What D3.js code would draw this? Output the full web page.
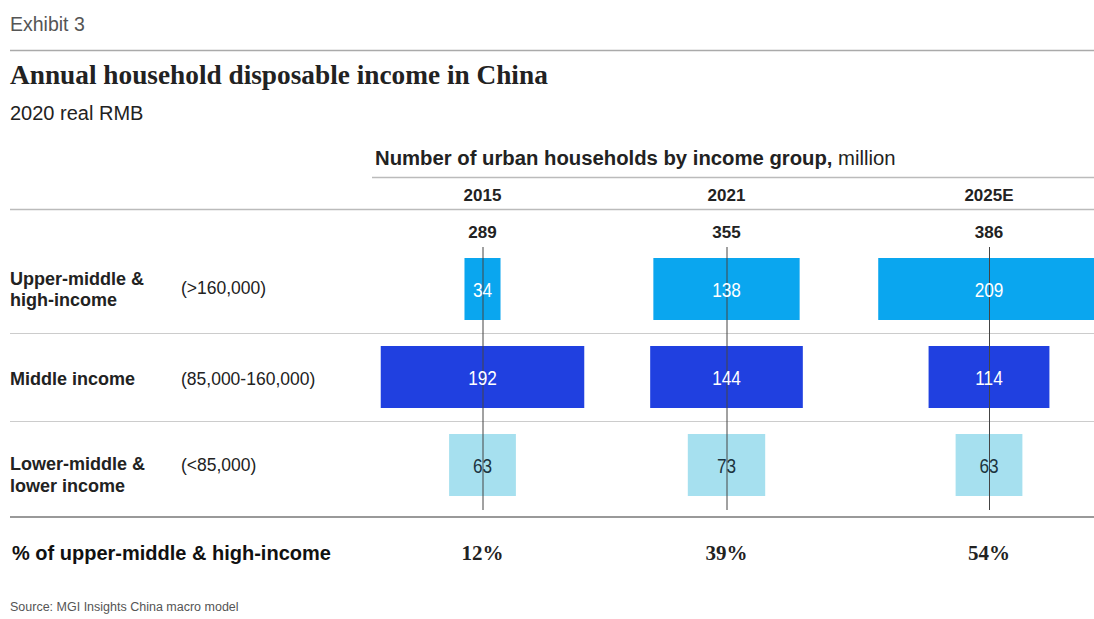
<!DOCTYPE html>
<html>
<head>
<meta charset="utf-8">
<script src="https://cdn.jsdelivr.net/npm/d3@7"></script>
<style>
  html, body { margin: 0; padding: 0; background: #fff; }
  svg { display: block; }
</style>
</head>
<body>
<svg id="chart" width="1094" height="619"></svg>
<script>
// ---- data ----
const years = ["2015", "2021", "2025E"];
const totals = [289, 355, 386];
const groups = ["upper", "middle", "lower"];
const groupLabels = [["Upper-middle &", "high-income"], ["Middle income"], ["Lower-middle &", "lower income"]];
const groupRanges = ["(>160,000)", "(85,000-160,000)", "(<85,000)"];
const upperValues = [34, 138, 209];
const middleValues = [192, 144, 114];
const lowerValues = [63, 73, 63];
const shareLabels = ["12%", "39%", "54%"];

// ---- layout / style ----
const W = 1094, H = 619;
const sans = "'Liberation Sans', Arial, Helvetica, sans-serif";
const serif = "'Liberation Serif', Georgia, 'DejaVu Serif', serif";
const colors = { upper: "#0aa6ef", middle: "#2040e0", lower: "#a6e0ef" };
const textColors = { upper: "#ffffff", middle: "#ffffff", lower: "#1c3440" };
const seriesValues = { upper: upperValues, middle: middleValues, lower: lowerValues };
// label baseline offsets (relative to band centre)
const labelOffsets = { upper: [-4, 17], middle: [8], lower: [5, 27] };
const rangeOffsets = { upper: 5, middle: 8, lower: 6 };

const svg = d3.select("#chart");

const x = d3.scaleOrdinal().domain(years).range([482.5, 726.5, 989]);
const w = d3.scaleLinear().domain([0, 100]).range([0, 106]);
const y = d3.scaleBand().domain(groups).range([245, 509]);
const barH = 62;

// header
svg.append("text").attr("x", 10).attr("y", 31).attr("font-family", sans)
  .attr("font-size", 19.5).attr("fill", "#555").text("Exhibit 3");
svg.append("line").attr("x1", 10).attr("x2", W).attr("y1", 50.5).attr("y2", 50.5)
  .attr("stroke", "#aaa").attr("stroke-width", 1.5);
svg.append("text").attr("x", 10).attr("y", 84).attr("font-family", serif)
  .attr("font-size", 27.3).attr("font-weight", "bold").attr("fill", "#222")
  .text("Annual household disposable income in China");
svg.append("text").attr("x", 10).attr("y", 120).attr("font-family", sans)
  .attr("font-size", 20).attr("fill", "#222").text("2020 real RMB");

// column header
const hdr = svg.append("text").attr("x", 375).attr("y", 165).attr("font-family", sans)
  .attr("font-size", 20.3).attr("fill", "#222");
hdr.append("tspan").attr("font-weight", "bold").text("Number of urban households by income group,");
hdr.append("tspan").text(" million");
svg.append("line").attr("x1", 372).attr("x2", W).attr("y1", 177.5).attr("y2", 177.5)
  .attr("stroke", "#bbb").attr("stroke-width", 1.5);

svg.selectAll("text.year").data(years).join("text").attr("class", "year")
  .attr("x", d => x(d)).attr("y", 201).attr("text-anchor", "middle")
  .attr("font-family", sans).attr("font-size", 17).attr("font-weight", "bold").attr("fill", "#222")
  .text(d => d);
svg.append("line").attr("x1", 10).attr("x2", W).attr("y1", 209.5).attr("y2", 209.5)
  .attr("stroke", "#bbb").attr("stroke-width", 1.5);

svg.selectAll("text.total").data(years).join("text").attr("class", "total")
  .attr("x", d => x(d)).attr("y", 238).attr("text-anchor", "middle")
  .attr("font-family", sans).attr("font-size", 17).attr("font-weight", "bold").attr("fill", "#222")
  .text((d, i) => totals[i]);

// row separators
svg.selectAll("line.sep").data(groups.slice(0, 2)).join("line").attr("class", "sep")
  .attr("x1", 10).attr("x2", W)
  .attr("y1", d => Math.round(y(d) + y.step()) + 0.5).attr("y2", d => Math.round(y(d) + y.step()) + 0.5)
  .attr("stroke", "#ccc").attr("stroke-width", 1.2);
svg.append("line").attr("x1", 10).attr("x2", W).attr("y1", 517).attr("y2", 517)
  .attr("stroke", "#999").attr("stroke-width", 2);

// row labels
groups.forEach((g, gi) => {
  const cy = y(g) + y.bandwidth() / 2;
  const t = svg.append("text").attr("x", 10).attr("font-family", sans)
    .attr("font-size", 18).attr("font-weight", "bold").attr("fill", "#222");
  groupLabels[gi].forEach((l, li) => {
    t.append("tspan").attr("x", 10).attr("y", cy + labelOffsets[g][li]).text(l);
  });
  svg.append("text").attr("x", 181).attr("y", cy + rangeOffsets[g])
    .attr("font-family", sans).attr("font-size", 17.5).attr("fill", "#222").text(groupRanges[gi]);
});

// bars
groups.forEach(g => {
  const vals = seriesValues[g];
  const cy = y(g) + y.bandwidth() / 2;
  svg.selectAll("rect.bar-" + g).data(years).join("rect").attr("class", "bar-" + g)
    .attr("x", (d, i) => x(d) - w(vals[i]) / 2)
    .attr("width", (d, i) => w(vals[i]))
    .attr("y", cy - barH / 2).attr("height", barH)
    .attr("fill", colors[g]);
});

// vertical center lines
svg.selectAll("line.center").data(years).join("line").attr("class", "center")
  .attr("x1", d => x(d) + 0.5).attr("x2", d => x(d) + 0.5)
  .attr("y1", 247).attr("y2", 510)
  .attr("stroke", "#444").attr("stroke-width", 1);

// bar labels (condensed digits)
groups.forEach(g => {
  const vals = seriesValues[g];
  const cy = y(g) + y.bandwidth() / 2;
  svg.selectAll("text.lbl-" + g).data(years).join("text").attr("class", "lbl-" + g)
    .attr("transform", d => `translate(${x(d)},${cy + 8}) scale(0.82,1)`)
    .attr("text-anchor", "middle")
    .attr("font-family", sans).attr("font-size", 21).attr("fill", textColors[g])
    .text((d, i) => vals[i]);
});

// bottom row
svg.append("text").attr("x", 12).attr("y", 560).attr("font-family", sans)
  .attr("font-size", 20).attr("font-weight", "bold").attr("fill", "#111")
  .text("% of upper-middle & high-income");
svg.selectAll("text.share").data(years).join("text").attr("class", "share")
  .attr("x", d => x(d)).attr("y", 560).attr("text-anchor", "middle")
  .attr("font-family", serif).attr("font-size", 21).attr("font-weight", "bold").attr("fill", "#222")
  .text((d, i) => shareLabels[i]);

svg.append("text").attr("x", 10).attr("y", 611).attr("font-family", sans)
  .attr("font-size", 12.5).attr("fill", "#555").text("Source: MGI Insights China macro model");
</script>
</body>
</html>
